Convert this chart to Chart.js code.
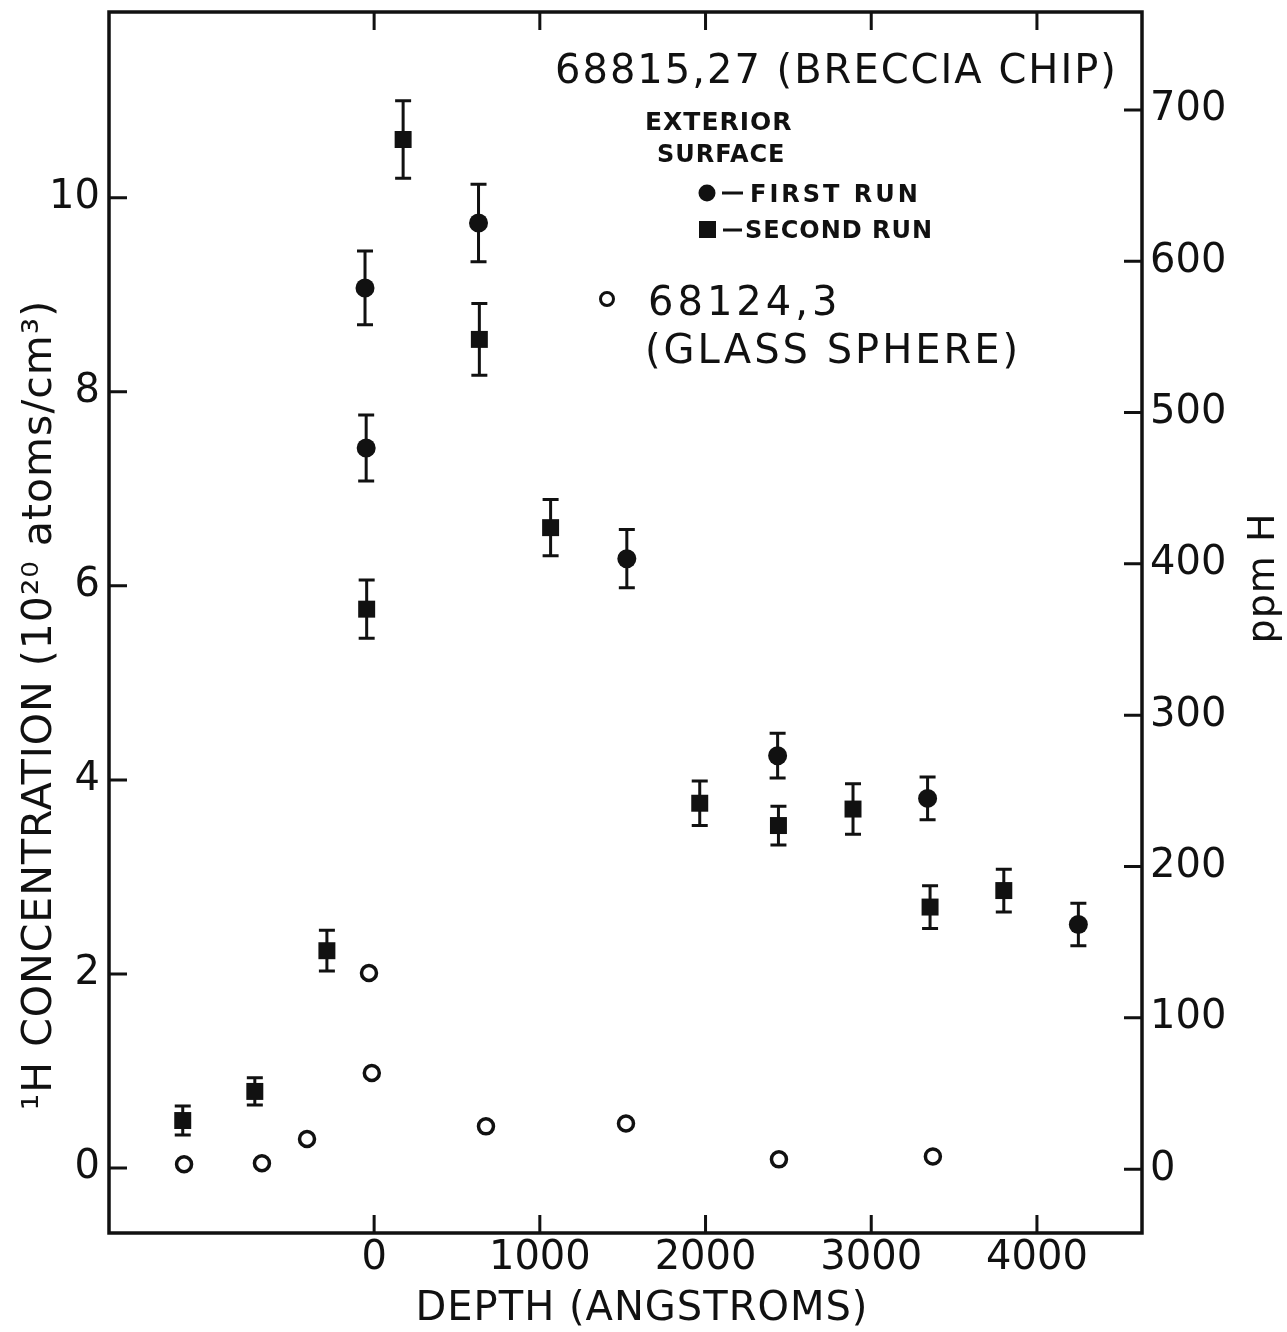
<!DOCTYPE html>
<html>
<head>
<meta charset="utf-8">
<script src="https://cdn.jsdelivr.net/npm/chart.js@4.4.0/dist/chart.umd.min.js"></script>
<style>
  html,body{margin:0;padding:0;background:#fff;}
  #wrap{width:1287px;height:1332px;position:relative;}
</style>
</head>
<body>
<div id="wrap"><canvas id="chart"></canvas></div>
<script>
// tick labels
const xTicks = [0, 1000, 2000, 3000, 4000];
const yTicks = [0, 2, 4, 6, 8, 10];
const ppmTicks = [0, 100, 200, 300, 400, 500, 600, 700];

// 68815,27 exterior surface, first run (circles)
const firstDepth = [-55, -48, 630, 1525, 2435, 3340, 4250];
const firstConc  = [9.07, 7.42, 9.74, 6.28, 4.25, 3.81, 2.51];
const firstErr   = [0.38, 0.34, 0.40, 0.30, 0.23, 0.22, 0.22];

// 68815,27 exterior surface, second run (squares)
const secondDepth = [-1155, -720, -285, -45, 175, 635, 1065, 1965, 2440, 2890, 3355, 3800];
const secondConc  = [0.49, 0.79, 2.24, 5.76, 10.60, 8.54, 6.60, 3.76, 3.53, 3.70, 2.69, 2.86];
const secondErr   = [0.15, 0.14, 0.21, 0.30, 0.40, 0.37, 0.29, 0.23, 0.20, 0.26, 0.22, 0.22];

// 68124,3 glass sphere (open circles)
const glassDepth = [-1147, -677, -405, -31, -14, 675, 1520, 2443, 3372];
const glassConc  = [0.04, 0.05, 0.30, 2.01, 0.98, 0.43, 0.46, 0.09, 0.12];

const FONT = '"DejaVu Sans", sans-serif';
const INK = '#111';

function pts(xs, ys){ return xs.map((x, i) => ({x: x, y: ys[i]})); }

// vertical error bars with caps
const errorBars = {
  id: 'errorBars',
  beforeDatasetsDraw(chart){
    const {ctx, scales: {x, y}} = chart;
    ctx.save();
    ctx.strokeStyle = INK; ctx.lineWidth = 3;
    chart.data.datasets.forEach(ds => {
      if(!ds.err) return;
      ds.data.forEach((p, i) => {
        const px = x.getPixelForValue(p.x);
        const t = y.getPixelForValue(p.y + ds.err[i]);
        const b = y.getPixelForValue(p.y - ds.err[i]);
        ctx.beginPath();
        ctx.moveTo(px, t); ctx.lineTo(px, b);
        ctx.moveTo(px - 8, t); ctx.lineTo(px + 8, t);
        ctx.moveTo(px - 8, b); ctx.lineTo(px + 8, b);
        ctx.stroke();
      });
    });
    ctx.restore();
  }
};

// box frame with inward ticks on all four sides
const frame = {
  id: 'frame',
  afterDatasetsDraw(chart){
    const {ctx, chartArea: {left, right, top, bottom}, scales} = chart;
    ctx.save();
    ctx.strokeStyle = INK; ctx.lineWidth = 3.5;
    ctx.strokeRect(left, top, right - left, bottom - top);
    ctx.lineWidth = 3;
    ctx.beginPath();
    scales.x.ticks.forEach(t => {
      const px = scales.x.getPixelForValue(t.value);
      ctx.moveTo(px, bottom); ctx.lineTo(px, bottom - 18);
      ctx.moveTo(px, top); ctx.lineTo(px, top + 18);
    });
    scales.y.ticks.forEach(t => {
      const py = scales.y.getPixelForValue(t.value);
      ctx.moveTo(left, py); ctx.lineTo(left + 18, py);
    });
    scales.ppm.ticks.forEach(t => {
      const py = scales.ppm.getPixelForValue(t.value);
      ctx.moveTo(right, py); ctx.lineTo(right - 18, py);
    });
    ctx.stroke();
    ctx.restore();
  }
};

// axis titles and the in-plot key
const labels = {
  id: 'labels',
  afterDraw(chart){
    const ctx = chart.ctx;
    ctx.save();
    ctx.fillStyle = INK; ctx.strokeStyle = INK;
    ctx.textBaseline = 'alphabetic';

    // x title
    ctx.font = '40px ' + FONT;
    ctx.letterSpacing = '1px';
    ctx.textAlign = 'center';
    ctx.fillText('DEPTH (ANGSTROMS)', 642, 1320);

    // left title
    ctx.save();
    ctx.translate(51, 705);
    ctx.rotate(-Math.PI / 2);
    ctx.font = '41px ' + FONT;
    ctx.fillText('\u00B9H CONCENTRATION (10\u00B2\u2070 atoms/cm\u00B3)', 0, 0);
    ctx.restore();

    // right title
    ctx.save();
    ctx.translate(1274, 578);
    ctx.rotate(-Math.PI / 2);
    ctx.font = '38px ' + FONT;
    ctx.fillText('ppm H', 0, 0);
    ctx.restore();

    ctx.textAlign = 'left';
    ctx.font = '40px ' + FONT;
    ctx.letterSpacing = '2px';
    ctx.fillText('68815,27 (BRECCIA CHIP)', 555, 83);

    ctx.font = 'bold 25px ' + FONT;
    ctx.letterSpacing = '1px';
    ctx.fillText('EXTERIOR', 645, 130);
    ctx.font = 'bold 24px ' + FONT;
    ctx.fillText('SURFACE', 657, 162);

    // key markers
    ctx.beginPath(); ctx.arc(707, 193, 8.5, 0, Math.PI * 2); ctx.fill();
    ctx.fillRect(699, 221, 17, 17);
    ctx.lineWidth = 3;
    ctx.beginPath();
    ctx.moveTo(722, 193); ctx.lineTo(743, 193);
    ctx.moveTo(723, 230); ctx.lineTo(742, 230);
    ctx.stroke();
    ctx.letterSpacing = '3px';
    ctx.fillText('FIRST RUN', 750, 202);
    ctx.letterSpacing = '1px';
    ctx.fillText('SECOND RUN', 745, 238);

    ctx.lineWidth = 3;
    ctx.beginPath(); ctx.arc(607, 299, 6.5, 0, Math.PI * 2); ctx.stroke();
    ctx.font = '40px ' + FONT;
    ctx.letterSpacing = '4px';
    ctx.fillText('68124,3', 648, 315);
    ctx.letterSpacing = '3px';
    ctx.fillText('(GLASS SPHERE)', 645, 363);
    ctx.restore();
  }
};

function fixWidth(w){
  return function(scale){
    scale.width = w;
    scale.paddingTop = 0; scale.paddingBottom = 0;
  };
}

const tickFont = {family: FONT, size: 40};
const plain = v => String(v);

new Chart(document.getElementById('chart'), {
  type: 'scatter',
  data: {
    datasets: [
      {
        label: '68124,3 (glass sphere)',
        data: pts(glassDepth, glassConc),
        pointStyle: 'circle', pointRadius: 7.5, borderWidth: 3.5,
        borderColor: INK, backgroundColor: '#fff'
      },
      {
        label: 'First run',
        data: pts(firstDepth, firstConc), err: firstErr,
        pointStyle: 'circle', pointRadius: 9.5, borderWidth: 0,
        backgroundColor: INK, borderColor: INK
      },
      {
        label: 'Second run',
        data: pts(secondDepth, secondConc), err: secondErr,
        pointStyle: 'rect', pointRadius: 12, borderWidth: 0,
        backgroundColor: INK, borderColor: INK
      }
    ]
  },
  options: {
    responsive: true,
    maintainAspectRatio: false,
    animation: false,
    layout: {padding: {top: 10, left: 0, right: 0, bottom: 0}},
    plugins: {legend: {display: false}, tooltip: {enabled: false}},
    scales: {
      x: {
        type: 'linear', position: 'bottom', min: -1600, max: 4634,
        afterBuildTicks: s => { s.ticks = xTicks.map(v => ({value: v})); },
        afterFit: s => { s.height = 99; s.paddingLeft = 0; s.paddingRight = 0; },
        grid: {display: false, drawTicks: false},
        border: {display: false},
        ticks: {font: tickFont, color: INK, padding: 2, maxRotation: 0, autoSkip: false, callback: plain}
      },
      y: {
        type: 'linear', position: 'left', min: -0.669, max: 11.914,
        afterBuildTicks: s => { s.ticks = yTicks.map(v => ({value: v})); },
        afterFit: fixWidth(109),
        grid: {display: false, drawTicks: false},
        border: {display: false},
        ticks: {font: tickFont, color: INK, padding: 9, autoSkip: false, callback: plain}
      },
      ppm: {
        type: 'linear', position: 'right', min: -42.2, max: 764.7,
        afterBuildTicks: s => { s.ticks = ppmTicks.map(v => ({value: v})); },
        afterFit: fixWidth(145),
        grid: {display: false, drawTicks: false},
        border: {display: false},
        ticks: {font: tickFont, color: INK, padding: 8, autoSkip: false, callback: plain}
      }
    }
  },
  plugins: [errorBars, frame, labels]
});
</script>
</body>
</html>
